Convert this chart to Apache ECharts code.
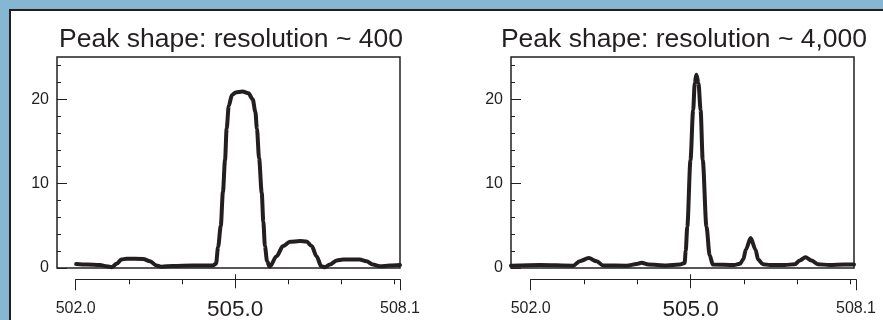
<!DOCTYPE html>
<html><head><meta charset="utf-8">
<script src="https://cdn.jsdelivr.net/npm/echarts@6/dist/echarts.min.js"></script>
<style>
html,body{margin:0;padding:0;width:883px;height:320px;overflow:hidden;background:#86b7d2;}
#panel{position:absolute;left:9px;top:9px;width:880px;height:320px;background:#fff;border-top:2.5px solid #231f20;border-left:2.5px solid #231f20;}
#chart{position:absolute;left:0;top:0;width:883px;height:320px;}
</style></head><body>
<div id="panel"></div><div id="chart"></div>
<script>
const titles = ['Peak shape: resolution ~ 400', 'Peak shape: resolution ~ 4,000'];

const xLow = [502.01, 502.21, 502.46, 502.58, 502.68, 502.77, 502.86, 502.96, 503.27, 503.40, 503.52, 503.62, 503.83, 504.20, 504.58, 504.64, 504.68, 504.73, 504.77, 504.81, 504.84, 504.88, 504.94, 505.01, 505.14, 505.25, 505.33, 505.38, 505.41, 505.45, 505.50, 505.53, 505.56, 505.60, 505.65, 505.78, 505.90, 506.03, 506.22, 506.34, 506.44, 506.53, 506.62, 506.69, 506.78, 506.91, 507.03, 507.34, 507.47, 507.59, 507.72, 507.91, 508.10];
const yLow = [0.47, 0.4, 0.35, 0.2, 0.1, 0.5, 1.0, 1.1, 1.07, 0.8, 0.3, 0.15, 0.25, 0.3, 0.3, 0.5, 2.5, 5, 9, 12.8, 16.5, 19.2, 20.5, 20.8, 20.9, 20.7, 20.0, 18.5, 16.5, 13, 8.9, 5.5, 2.6, 0.8, 0.15, 1.4, 2.6, 3.1, 3.2, 3.15, 2.6, 1.4, 0.2, 0.1, 0.4, 0.9, 1.0, 1.0, 0.8, 0.4, 0.2, 0.3, 0.35];

const xHigh = [501.63, 502.18, 502.80, 502.92, 503.09, 503.24, 503.36, 503.80, 503.99, 504.08, 504.21, 504.55, 504.80, 504.89, 504.91, 504.94, 505.00, 505.05, 505.08, 505.11, 505.15, 505.19, 505.23, 505.30, 505.36, 505.42, 505.82, 505.93, 505.99, 506.04, 506.13, 506.22, 506.27, 506.36, 506.49, 506.77, 506.96, 507.05, 507.16, 507.27, 507.39, 507.61, 507.89, 508.07];
const yHigh = [0.28, 0.35, 0.28, 0.8, 1.18, 0.8, 0.3, 0.28, 0.47, 0.63, 0.4, 0.3, 0.4, 0.6, 2, 4.9, 12.8, 18.7, 21.9, 22.9, 21.9, 18.7, 12.8, 4.9, 1.5, 0.4, 0.35, 0.5, 1.0, 2.2, 3.55, 2.2, 1.0, 0.45, 0.35, 0.35, 0.45, 0.9, 1.26, 0.9, 0.45, 0.35, 0.4, 0.4];

const yMajorTicks = [0, 10, 20];
const yMinorTicks = [2, 4, 6, 8, 12, 14, 16, 18, 22, 24];
const xEndTicks = [502, 508.1];
const xCenterTicks = [505];
const xMinorTicks = [503, 504, 506, 507, 508];

const INK = '#231f20';
const FONT = '"Liberation Sans", Arial, Helvetica, sans-serif';

const panels = [
  {box: {left: 57, top: 57, width: 343, height: 211}, strip: {left: 75.7, width: 324.3}, xmin: 501.65, xmax: 508.1, title: 226, xs: xLow, ys: yLow},
  {box: {left: 511, top: 57, width: 343, height: 211}, strip: {left: 530.7, width: 325.3}, xmin: 501.63, xmax: 508.07, title: 679, xs: xHigh, ys: yHigh}
];

const grid = [], xAxis = [], yAxis = [], series = [], title = [];
panels.forEach((p, i) => {
  const gBox = grid.length;
  grid.push(Object.assign({show: true, borderColor: INK, borderWidth: 1.5, backgroundColor: 'transparent'}, p.box));
  const gStrip = grid.length;
  grid.push({left: p.strip.left, width: p.strip.width, top: 279, height: 1});

  title.push({text: titles[i], left: p.title, top: 21, textAlign: 'center',
    textStyle: {fontFamily: FONT, fontSize: 26.5, fontWeight: 'normal', color: INK}});

  const xBox = xAxis.length;
  xAxis.push({type: 'value', gridIndex: gBox, min: p.xmin, max: p.xmax, show: false});
  const base = {type: 'value', gridIndex: gStrip, min: 502, max: 508.1, position: 'bottom', offset: 0,
    splitLine: {show: false}};
  xAxis.push(Object.assign({}, base, {
    axisLine: {show: true, onZero: false, lineStyle: {color: INK, width: 1}},
    axisTick: {show: true, customValues: xMinorTicks, length: 5, lineStyle: {color: INK, width: 1}},
    axisLabel: {show: false}}));
  xAxis.push(Object.assign({}, base, {
    axisLine: {show: false, onZero: false},
    axisTick: {show: true, customValues: xEndTicks, length: 11, lineStyle: {color: INK, width: 1}},
    axisLabel: {show: true, customValues: xEndTicks, margin: 21, fontFamily: FONT, fontSize: 16, color: INK,
      formatter: v => Number(v).toFixed(1)}}));
  xAxis.push(Object.assign({}, base, {
    axisLine: {show: false, onZero: false},
    axisTick: {show: true, customValues: xCenterTicks, length: 9, lineStyle: {color: INK, width: 1}},
    axisLabel: {show: true, customValues: xCenterTicks, margin: 19, fontFamily: FONT, fontSize: 22.5, color: INK,
      formatter: v => Number(v).toFixed(1)}}));
  xAxis.push(Object.assign({}, base, {
    axisLine: {show: false, onZero: false},
    axisTick: {show: true, inside: true, customValues: xCenterTicks, length: 5, lineStyle: {color: INK, width: 1}},
    axisLabel: {show: false}}));

  const yBox = yAxis.length;
  yAxis.push({type: 'value', gridIndex: gBox, min: 0, max: 25, position: 'left', splitLine: {show: false},
    axisLine: {show: false, onZero: false},
    axisTick: {show: true, inside: true, customValues: yMinorTicks, length: 4, lineStyle: {color: INK, width: 1}},
    axisLabel: {show: false}});
  yAxis.push({type: 'value', gridIndex: gBox, min: 0, max: 25, position: 'left', splitLine: {show: false},
    axisLine: {show: false, onZero: false},
    axisTick: {show: true, inside: true, customValues: yMajorTicks, length: 10, lineStyle: {color: INK, width: 1}},
    axisLabel: {show: true, customValues: yMajorTicks, margin: 8, fontFamily: FONT, fontSize: 16, color: INK}});
  yAxis.push({type: 'value', gridIndex: gStrip, min: 0, max: 1, show: false});

  series.push({type: 'line', xAxisIndex: xBox, yAxisIndex: yBox,
    data: p.xs.map((x, k) => [x, p.ys[k]]),
    smooth: 0.3, smoothMonotone: 'x', showSymbol: false, clip: true,
    lineStyle: {color: INK, width: 4, join: 'round', cap: 'round'}});
});

const chart = echarts.init(document.getElementById('chart'), null, {renderer: 'canvas'});
chart.setOption({animation: false, backgroundColor: 'transparent', title, grid, xAxis, yAxis, series});
</script>
</body></html>
